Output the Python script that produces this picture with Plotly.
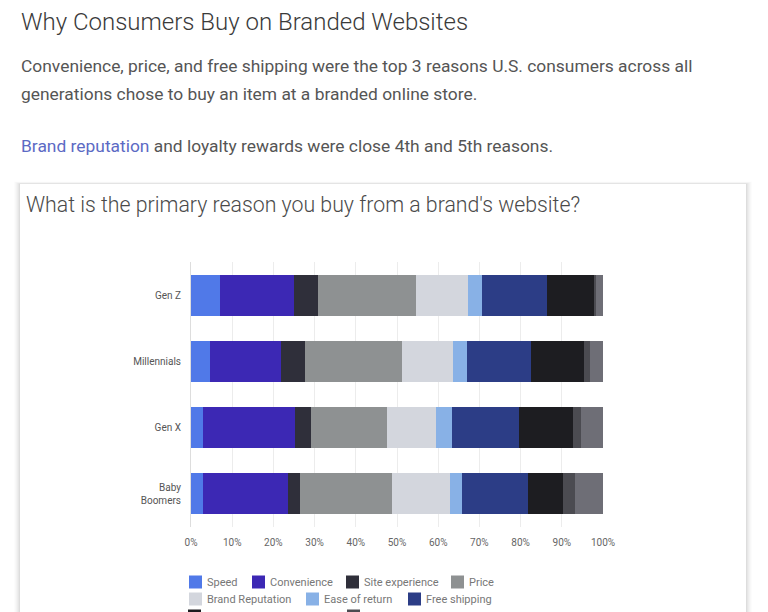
import plotly.graph_objects as go

# ---------------- data ----------------
generations = ["Gen Z", "Millennials", "Gen X", "Baby Boomers"]
generation_labels = ["Gen Z", "Millennials", "Gen X", "Baby<br>Boomers"]

reasons = ["Speed", "Convenience", "Site experience", "Price", "Brand Reputation",
           "Ease of return", "Free shipping", "Loyalty rewards", "Unique products", "Other"]

speed = [7.0, 4.6, 2.8, 3.0]
convenience = [18.1, 17.2, 22.4, 20.6]
site_experience = [5.7, 5.8, 3.9, 2.9]
price = [23.9, 23.5, 18.5, 22.2]
brand_reputation = [12.5, 12.5, 11.8, 14.1]
ease_of_return = [3.4, 3.4, 3.9, 3.0]
free_shipping = [15.7, 15.5, 16.3, 15.9]
loyalty_rewards = [11.5, 12.9, 13.2, 8.7]
unique_products = [0.6, 1.4, 1.8, 2.8]
other = [1.5, 3.2, 5.5, 7.0]

series = [speed, convenience, site_experience, price, brand_reputation,
          ease_of_return, free_shipping, loyalty_rewards, unique_products, other]

x_tick_values = [0, 10, 20, 30, 40, 50, 60, 70, 80, 90, 100]
x_tick_labels = ["0%", "10%", "20%", "30%", "40%", "50%", "60%", "70%", "80%", "90%", "100%"]

# ---------------- style ----------------
colors = ["#5079E8", "#3C28B4", "#2F2F3A", "#8E9192", "#D3D6DD",
          "#88B1E6", "#2C3D86", "#1D1D21", "#4B4B51", "#6E6E76"]

W, H = 768, 612


def px_x(x):
    return x / W


def px_y(y):
    return 1 - y / H


fig = go.Figure()
for name, vals, col in zip(reasons, series, colors):
    fig.add_trace(go.Bar(
        y=generations, x=vals, name=name, orientation="h",
        marker=dict(color=col, line=dict(width=0)),
        showlegend=False, hoverinfo="skip",
    ))

shapes = []
# card shadow (soft) + card
for i, a in enumerate([0.010, 0.014, 0.018, 0.022, 0.028, 0.034]):
    o = 6 - i
    shapes.append(dict(type="rect", xref="paper", yref="paper",
                       x0=px_x(20 - o), x1=px_x(746 + o), y0=px_y(640), y1=px_y(184 - o * 0.4),
                       fillcolor=f"rgba(0,0,0,{a})", line=dict(width=0), layer="below"))
shapes.append(dict(type="rect", xref="paper", yref="paper",
                   x0=px_x(20), x1=px_x(746), y0=px_y(640), y1=px_y(184),
                   fillcolor="white", line=dict(width=0), layer="below"))

annotations = []


def text(x, y, t, size, color, family="Roboto", weight=400):
    annotations.append(dict(xref="paper", yref="paper", x=px_x(x), y=px_y(y),
                            text=t, showarrow=False, xanchor="left", yanchor="middle",
                            font=dict(size=size, color=color, family=family, weight=weight)))


text(19, 22, "Why Consumers Buy on Branded Websites", 24, "#3a3a3a", weight=300)
text(19, 66, "Convenience, price, and free shipping were the top 3 reasons U.S. consumers across all", 17.4, "#555555")
text(19, 94, "generations chose to buy an item at a branded online store.", 17.4, "#555555")
text(19, 146, "<span style='color:#5C6AC4'>Brand reputation</span> and loyalty rewards were close 4th and 5th reasons.", 17.4, "#555555")
text(24, 205, "What is the primary reason you buy from a brand's website?", 21.3, "#4a4a4a", weight=300)

# legend (manual, wraps like the original)
legend_pos = [(189, 582), (252, 582), (346, 582), (451, 582),
              (189, 599), (306, 599), (408, 599),
              (188, 616), (347, 616), (189, 633)]
for name, col, (lx, ly) in zip(reasons, colors, legend_pos):
    shapes.append(dict(type="rect", xref="paper", yref="paper",
                       x0=px_x(lx), x1=px_x(lx + 13), y0=px_y(ly + 6.5), y1=px_y(ly - 6.5),
                       fillcolor=col, line=dict(width=0)))
    text(lx + 16, ly, name, 11, "#777777")

fig.update_layout(
    width=W, height=H,
    margin=dict(l=0, r=0, t=0, b=0),
    paper_bgcolor="white", plot_bgcolor="rgba(0,0,0,0)",
    barmode="stack", bargap=0.38,
    shapes=shapes, annotations=annotations,
    font=dict(family="Roboto", color="#666666"),
    xaxis=dict(domain=[px_x(191), px_x(603)], range=[0, 100],
               tickvals=x_tick_values, ticktext=x_tick_labels,
               showgrid=True, gridcolor="#ECECEC", gridwidth=1, zeroline=False,
               showline=False, ticks="", ticklabelstandoff=8,
               tickfont=dict(size=10, color="#666666"), automargin=False, fixedrange=True),
    yaxis=dict(domain=[px_y(527), px_y(262)], autorange="reversed",
               tickvals=generations, ticktext=generation_labels,
               showgrid=False, showline=True, linecolor="#DDDDDD", linewidth=1,
               ticks="", ticklabelstandoff=7,
               tickfont=dict(size=10, color="#555555"), automargin=False, fixedrange=True),
)

fig.write_html("out.html",
               config={"displayModeBar": False, "staticPlot": True},
               post_script="document.body.style.margin='0';document.body.style.overflow='hidden';")
